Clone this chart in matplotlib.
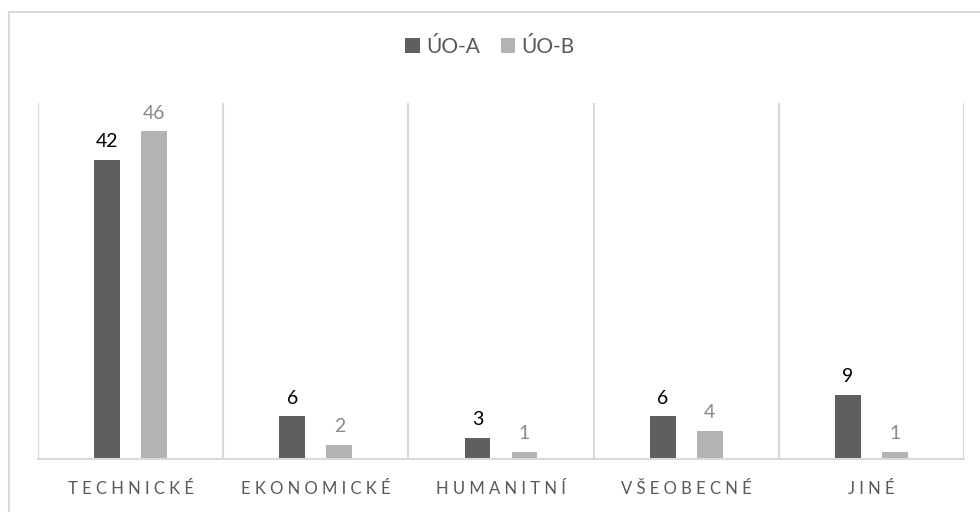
import matplotlib
matplotlib.use("Agg")
import matplotlib.pyplot as plt
import numpy as np
from matplotlib.patches import Rectangle

plt.rcParams['font.family'] = ['Lato', 'DejaVu Sans']

# Data
categories = ['TECHNICKÉ', 'EKONOMICKÉ', 'HUMANITNÍ', 'VŠEOBECNÉ', 'JINÉ']
series_names = ['ÚO-A', 'ÚO-B']
values_a = [42, 6, 3, 6, 9]
values_b = [46, 2, 1, 4, 1]

dark = '#5f5f5f'
light = '#b3b3b3'
grid = '#d9d9d9'

fig = plt.figure(figsize=(9.8, 5.12), dpi=100)
ax = fig.add_axes([38 / 980, 53 / 512, 926 / 980, 356 / 512])

x = np.arange(len(categories)) + 0.5
w = 0.14
off = 0.127

bars_a = ax.bar(x - off, values_a, w, color=dark, label=series_names[0], zorder=3)
bars_b = ax.bar(x + off, values_b, w, color=light, label=series_names[1], zorder=3)

for rect, v in zip(bars_a, values_a):
    ax.annotate(str(v), (rect.get_x() + rect.get_width() / 2, v),
                xytext=(0, 7), textcoords='offset points', ha='center', va='bottom',
                fontsize=14, color='#000000')
for rect, v in zip(bars_b, values_b):
    ax.annotate(str(v), (rect.get_x() + rect.get_width() / 2, v),
                xytext=(0, 7), textcoords='offset points', ha='center', va='bottom',
                fontsize=14, color='#8a8a8a')

ax.set_xlim(0, len(categories))
ax.set_ylim(0, 50)

# category separators
for b in range(len(categories) + 1):
    ax.axvline(b, color=grid, lw=1.5, zorder=1)

for s in ['top', 'right', 'left']:
    ax.spines[s].set_visible(False)
ax.spines['bottom'].set_color(grid)
ax.spines['bottom'].set_linewidth(1.5)
ax.spines['bottom'].set_zorder(4)

ax.set_yticks([])
ax.set_xticks(x)
ax.set_xticklabels([' '.join(c) for c in categories], fontsize=12, color='#595959')
ax.tick_params(axis='x', length=0, pad=16)

fig.legend(loc='center', bbox_to_anchor=(0.5, 1 - 47 / 512), ncol=2, frameon=False,
           fontsize=15, handlelength=0.7, handleheight=0.7, handletextpad=0.3,
           columnspacing=1.0, labelcolor='#595959')

# chart frame
fig.patches.append(Rectangle((9 / 980, -0.1), 1.2, 1.1 - 12 / 512,
                             transform=fig.transFigure, fill=False,
                             edgecolor=grid, lw=1.5))

fig.savefig('out.png', dpi=100, facecolor='white')
